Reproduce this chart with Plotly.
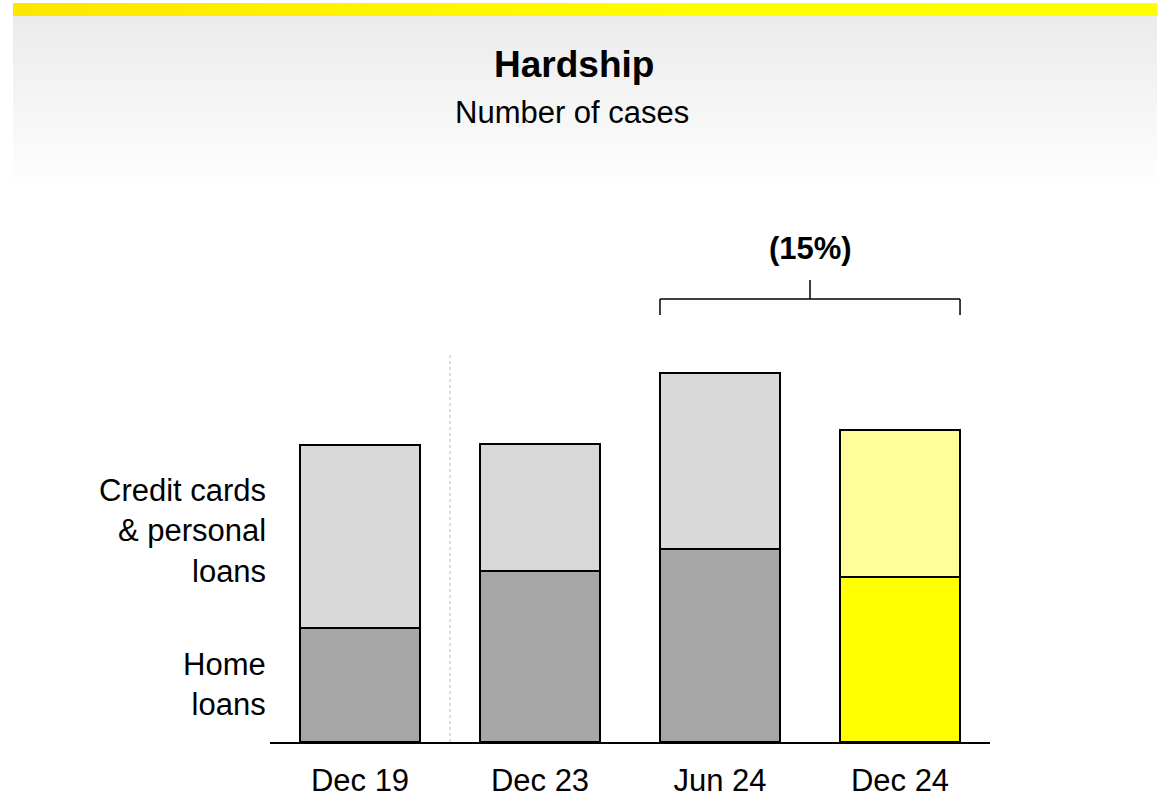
import plotly.graph_objects as go

# ---- data ----
categories = ["Dec 19", "Dec 23", "Jun 24", "Dec 24"]
home_loans = [114, 171, 193, 165]
cards_personal = [183, 127, 176, 147]
title_text = "Hardship"
subtitle_text = "Number of cases"
label_cards = "Credit cards<br>& personal<br>loans"
label_home = "Home<br>loans"

home_colors = ["#A6A6A6", "#A6A6A6", "#A6A6A6", "#FFFF00"]
cards_colors = ["#D9D9D9", "#D9D9D9", "#D9D9D9", "#FFFF99"]

OFF = 0
W, H = 1166, 801
FONT = "Liberation Sans, Arial, sans-serif"


def px(x):
    return (x - OFF) / W


def py(y):
    return 1 - (y - OFF) / H


fig = go.Figure()
fig.add_trace(go.Bar(x=categories, y=home_loans, marker=dict(color=home_colors, line=dict(color="black", width=1.5)),
                     width=0.667, hoverinfo="skip"))
fig.add_trace(go.Bar(x=categories, y=cards_personal, marker=dict(color=cards_colors, line=dict(color="black", width=1.5)),
                     width=0.667, hoverinfo="skip"))

shapes = []
# yellow banner gradient
n = 60
x0b, x1b = 13, 1157
c0 = (255, 230, 0)
c1 = (255, 255, 0)
for i in range(n):
    t = i / (n - 1)
    col = tuple(round(c0[k] + (c1[k] - c0[k]) * min(1, t * 1.6)) for k in range(3))
    xa = x0b + (x1b - x0b) * i / n
    xb = x0b + (x1b - x0b) * (i + 1) / n + 0.5
    shapes.append(dict(type="rect", xref="paper", yref="paper", x0=px(xa), x1=px(xb), y0=py(16), y1=py(3),
                       fillcolor="rgb(%d,%d,%d)" % col, line=dict(width=0), layer="below"))
# gray vertical gradient
g0, g1 = 16, 192
steps = 88
for i in range(steps):
    t = i / (steps - 1)
    v = round(235 + (255 - 235) * t)
    ya = g0 + (g1 - g0) * i / steps
    yb = g0 + (g1 - g0) * (i + 1) / steps + 0.5
    shapes.append(dict(type="rect", xref="paper", yref="paper", x0=px(x0b), x1=px(x1b), y0=py(yb), y1=py(ya),
                       fillcolor="rgb(%d,%d,%d)" % (v, v, v), line=dict(width=0), layer="below"))

# dotted separator between Dec 19 and Dec 23
shapes.append(dict(type="line", xref="x", yref="y", x0=0.5, x1=0.5, y0=0, y1=390,
                   line=dict(color="#BBBBBB", width=1, dash="dot")))

# bracket between Jun 24 and Dec 24
totals = [h + c for h, c in zip(home_loans, cards_personal)]
by = max(totals) + 74
hw = 0.667 / 2
xl, xr = 2 - hw, 3 + hw
bl = dict(color="black", width=1.5)
shapes.append(dict(type="line", xref="x", yref="y", x0=xl, x1=xr, y0=by, y1=by, line=bl))
shapes.append(dict(type="line", xref="x", yref="y", x0=xl, x1=xl, y0=by, y1=by - 16, line=bl))
shapes.append(dict(type="line", xref="x", yref="y", x0=xr, x1=xr, y0=by, y1=by - 16, line=bl))
shapes.append(dict(type="line", xref="x", yref="y", x0=(xl + xr) / 2, x1=(xl + xr) / 2, y0=by, y1=by + 19, line=bl))

change = totals[3] / totals[2] - 1
pct = "(%d%%)" % round(abs(change) * 100) if change < 0 else "%d%%" % round(change * 100)

annotations = [
    dict(text="<b>%s</b>" % title_text, xref="paper", yref="paper", x=px(574), y=py(65), showarrow=False,
         font=dict(size=37, color="black", family=FONT), xanchor="center", yanchor="middle"),
    dict(text=subtitle_text, xref="paper", yref="paper", x=px(572), y=py(112), showarrow=False,
         font=dict(size=31, color="black", family=FONT), xanchor="center", yanchor="middle"),
    dict(text="<b>%s</b>" % pct, xref="x", yref="y", x=(xl + xr) / 2, y=by + 50, showarrow=False,
         font=dict(size=31, color="black", family=FONT), xanchor="center", yanchor="middle"),
    dict(text=label_cards, xref="paper", yref="paper", x=px(268), y=py(531), showarrow=False, align="right",
         font=dict(size=31, color="black", family=FONT), xanchor="right", yanchor="middle"),
    dict(text=label_home, xref="paper", yref="paper", x=px(268), y=py(684), showarrow=False, align="right",
         font=dict(size=31, color="black", family=FONT), xanchor="right", yanchor="middle"),
]

fig.update_layout(
    width=W, height=H, margin=dict(l=0, r=0, t=0, b=0),
    barmode="stack", showlegend=False,
    plot_bgcolor="rgba(0,0,0,0)", paper_bgcolor="white",
    font=dict(family=FONT, color="black"),
    shapes=shapes, annotations=annotations,
    xaxis=dict(domain=[px(270), px(990)], range=[-0.5, 3.5], showline=True, linecolor="black", linewidth=2,
               ticks="", showgrid=False, zeroline=False, tickfont=dict(size=31, color="black", family=FONT),
               ticklabelstandoff=10, automargin=False, fixedrange=True),
    yaxis=dict(domain=[py(742), py(200)], range=[0, 542], visible=False, automargin=False, fixedrange=True),
)

fig.write_html("out.html", config={"displayModeBar": False},
               post_script="document.body.style.margin='0px';document.body.style.overflow='hidden';")
